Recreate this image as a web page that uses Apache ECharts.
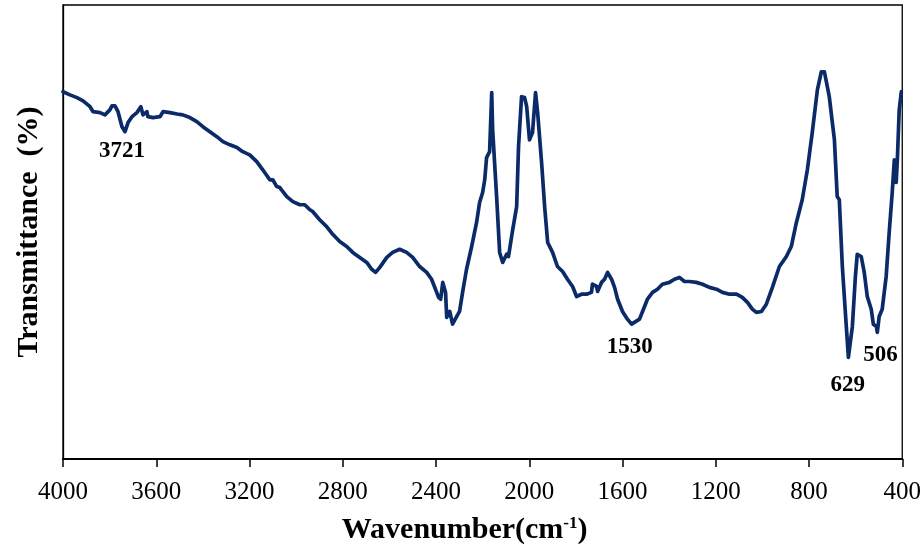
<!DOCTYPE html>
<html>
<head>
<meta charset="utf-8">
<script src="https://cdn.jsdelivr.net/npm/echarts@6/dist/echarts.min.js"></script>
<style>
  html, body { margin: 0; padding: 0; background: #fff; }
  #chart { width: 924px; height: 550px; }
</style>
</head>
<body>
<div id="chart"></div>
<script>
// FTIR spectrum: wavenumber (cm-1) against relative transmittance
const wavenumbers = [
  4000, 3970, 3940, 3914, 3906, 3884, 3871, 3841, 3820, 3799, 3790, 3777, 3764, 3747, 3734, 3721,
  3704, 3683, 3666, 3657, 3640, 3636, 3614, 3584, 3571, 3541, 3511, 3486, 3456, 3426, 3400, 3370,
  3340, 3314, 3284, 3254, 3229, 3199, 3169, 3143, 3113, 3100, 3083, 3070, 3040, 3014, 2984, 2963,
  2941, 2929, 2899, 2869, 2843, 2813, 2783, 2757, 2727, 2697, 2676, 2659, 2641, 2611, 2586, 2556,
  2526, 2500, 2470, 2440, 2419, 2397, 2389, 2380, 2371, 2359, 2354, 2341, 2329, 2311, 2299, 2286,
  2269, 2247, 2226, 2213, 2200, 2191, 2183, 2170, 2161, 2157, 2140, 2127, 2114, 2097, 2089, 2071,
  2054, 2046, 2033, 2020, 2011, 1999, 1986, 1973, 1964, 1947, 1934, 1921, 1900, 1879, 1857, 1836,
  1814, 1797, 1776, 1754, 1733, 1729, 1711, 1707, 1690, 1677, 1664, 1647, 1634, 1621, 1600, 1579,
  1561, 1549, 1527, 1514, 1493, 1471, 1450, 1429, 1399, 1377, 1356, 1334, 1313, 1283, 1257, 1227,
  1197, 1171, 1141, 1111, 1086, 1064, 1043, 1026, 1004, 983, 957, 927, 897, 876, 854, 829,
  807, 786, 764, 747, 734, 713, 691, 679, 670, 657, 640, 631, 614, 601, 593, 576,
  563, 550, 533, 524, 511, 507, 499, 486, 469, 456, 443, 434, 426, 421, 413, 404
];
const transmittance = [
  80.9, 80.2, 79.6, 78.9, 78.5, 77.6, 76.5, 76.3, 75.8, 76.9, 77.8, 77.8, 76.5, 73.2, 72.1, 74.1,
  75.4, 76.3, 77.6, 75.8, 76.5, 75.4, 75.2, 75.4, 76.5, 76.3, 76.0, 75.8, 75.2, 74.3, 73.2, 72.1,
  71.0, 69.9, 69.2, 68.6, 67.7, 67.0, 65.5, 63.7, 61.5, 61.5, 60.0, 59.8, 57.8, 56.7, 56.0, 56.0,
  54.9, 54.5, 52.7, 51.2, 49.5, 47.9, 46.8, 45.5, 44.4, 43.3, 41.8, 41.1, 42.2, 44.4, 45.5, 46.2,
  45.5, 44.4, 42.4, 41.1, 39.6, 36.7, 35.6, 35.2, 38.9, 36.7, 31.2, 32.5, 29.7, 31.4, 32.5, 36.7,
  41.8, 46.8, 52.1, 56.5, 58.7, 61.5, 66.4, 67.7, 80.7, 72.5, 57.8, 45.5, 43.3, 45.1, 44.6, 50.5,
  55.6, 68.8, 79.8, 79.6, 77.6, 70.3, 71.9, 80.7, 76.3, 65.3, 55.6, 47.7, 45.5, 42.4, 41.3, 39.6,
  38.0, 35.8, 36.3, 36.3, 36.7, 38.5, 38.0, 36.9, 38.9, 39.6, 41.1, 39.6, 37.8, 35.2, 32.5, 30.8,
  29.7, 30.1, 30.8, 32.5, 35.2, 36.7, 37.4, 38.5, 38.9, 39.6, 40.0, 39.1, 39.1, 38.9, 38.5, 37.8,
  37.4, 36.7, 36.3, 36.3, 35.6, 34.5, 33.0, 32.3, 32.5, 34.1, 37.8, 42.4, 44.6, 46.8, 52.1, 57.1,
  63.7, 71.9, 81.3, 85.3, 85.3, 79.8, 70.3, 57.8, 57.1, 42.4, 29.2, 22.4, 29.2, 40.2, 45.1, 44.6,
  41.1, 35.8, 33.0, 29.7, 29.2, 27.9, 31.4, 33.0, 40.2, 49.9, 58.7, 65.9, 60.9, 65.9, 76.9, 80.9
];
// Annotated bands: wavenumber, transmittance at the band, text offset
const bandPositions = [3721, 1530, 629, 506];
const bandLevels = [72.8, 29.9, 22.4, 27.9];
const bandOffsets = [[-6, 23], [-9, 24], [-1, 28], [3, 23]];

const xTicks = { min: 400, max: 4000, step: 400 };

const serif = '"Liberation Serif", "Times New Roman", serif';
const lineColor = '#0b2a68';

const spectrum = wavenumbers.map((w, i) => [w, transmittance[i]]);
const bands = bandPositions.map((w, i) => ({
  value: [w, bandLevels[i]],
  label: { offset: bandOffsets[i] }
}));

const chart = echarts.init(document.getElementById('chart'), null, { renderer: 'canvas' });
chart.setOption({
  animation: false,
  backgroundColor: '#ffffff',
  grid: {
    left: 63, right: 21, top: 5, bottom: 90,
    show: true, borderColor: '#000', borderWidth: 1.3, backgroundColor: 'transparent'
  },
  xAxis: {
    type: 'value',
    inverse: true,
    min: xTicks.min,
    max: xTicks.max,
    interval: xTicks.step,
    name: '{a|Wavenumber(cm}{s|-1}{a|)}',
    nameLocation: 'middle',
    nameGap: 56,
    nameTextStyle: {
      padding: [0, 36, 0, 0],
      rich: {
        a: { fontFamily: serif, fontWeight: 'bold', fontSize: 30, color: '#000' },
        s: { fontFamily: serif, fontWeight: 'bold', fontSize: 17, color: '#000', padding: [0, 0, 13, 0] }
      }
    },
    axisLine: { show: true, onZero: false, lineStyle: { color: '#000', width: 2.2 } },
    axisTick: { show: true, inside: false, length: 8, lineStyle: { color: '#000', width: 1.5 } },
    axisLabel: {
      fontFamily: serif, fontSize: 25, color: '#000', margin: 21,
      formatter: v => String(v)
    },
    splitLine: { show: false }
  },
  yAxis: {
    type: 'value',
    min: 0,
    max: 100,
    name: 'Transmittance  (%)',
    nameLocation: 'middle',
    nameGap: 19,
    nameTextStyle: { fontFamily: serif, fontWeight: 'bold', fontSize: 30, color: '#000' },
    axisLine: { show: true, lineStyle: { color: '#000', width: 1.3 } },
    axisTick: { show: false },
    axisLabel: { show: false },
    splitLine: { show: false }
  },
  series: [
    {
      type: 'line',
      data: spectrum,
      showSymbol: false,
      smooth: false,
      lineStyle: { color: lineColor, width: 3.7, join: 'round', cap: 'round' },
      z: 3
    },
    {
      type: 'scatter',
      data: bands,
      symbolSize: 0,
      itemStyle: { opacity: 1, color: '#000' },
      label: {
        show: true,
        position: 'inside',
        formatter: p => String(p.value[0]),
        fontFamily: serif,
        fontWeight: 'bold',
        fontSize: 23,
        color: '#000',
        textBorderWidth: 0,
        opacity: 1
      },
      z: 4
    }
  ]
});
</script>
</body>
</html>
